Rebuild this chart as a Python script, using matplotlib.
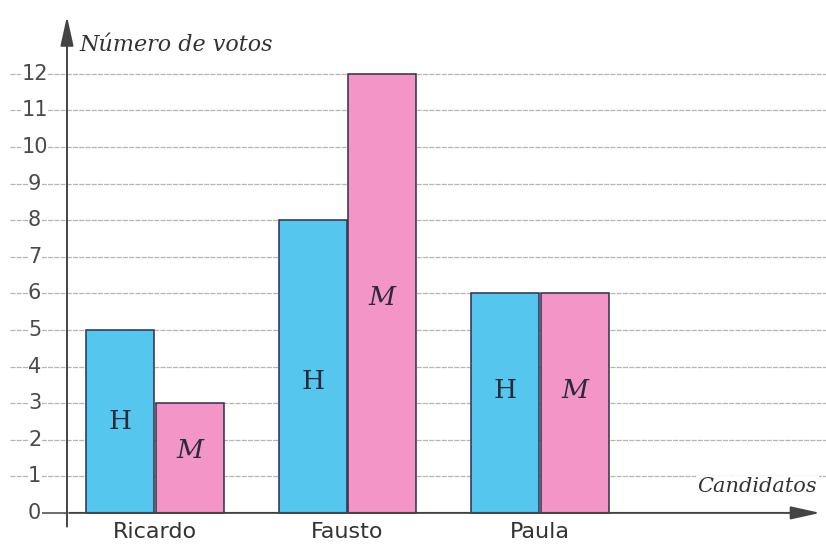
import matplotlib
matplotlib.use("Agg")
import matplotlib.pyplot as plt
import numpy as np

candidates = ["Ricardo", "Fausto", "Paula"]
hombres = [5, 8, 6]
mujeres = [3, 12, 6]
series_labels = ["H", "M"]
h_label_y = [2.5, 3.6, 3.35]
m_label_y = [1.7, 5.9, 3.35]
yticks = list(range(0, 13))
ylabel = "Número de votos"
xlabel = "Candidatos"

blue = "#55c6ee"
pink = "#f395c6"
edge = "#2e2f4a"
grid_c = "#b5b5b5"

fig = plt.figure(figsize=(8.26, 5.44), dpi=100)
ax = fig.add_axes([0, 0, 1, 1])
ax.set_xlim(-0.805, 3.486)
ax.set_ylim(-0.85, 14.02)
ax.axis("off")

x = np.arange(len(candidates))
w = 0.355
gap = 0.006
# gridlines
for t in yticks[1:]:
    ax.plot([-0.755, 3.486], [t, t], color=grid_c, lw=0.9, ls=(0, (4, 1)), zorder=1)
    ax.text(-0.625, t, str(t), ha="center", va="center", fontsize=15,
            color="#4a4a4a", family="DejaVu Sans", zorder=2,
            bbox=dict(facecolor="white", edgecolor="none", pad=0.3))
ax.plot([-0.585, -0.46], [0, 0], color="#555555", lw=1.2, zorder=3)
ax.text(-0.625, 0, "0", ha="center", va="center", fontsize=15, color="#4a4a4a",
        zorder=4, bbox=dict(facecolor="white", edgecolor="none", pad=0.3))

b1 = ax.bar(x - w / 2 - gap / 2, hombres, width=w, color=blue, edgecolor=edge,
            linewidth=1.1, zorder=3)
b2 = ax.bar(x + w / 2 + gap / 2, mujeres, width=w, color=pink, edgecolor=edge,
            linewidth=1.1, zorder=3)
for bars, ys, lab in ((b1, h_label_y, series_labels[0]), (b2, m_label_y, series_labels[1])):
    for rect, yy in zip(bars, ys):
        ax.text(rect.get_x() + rect.get_width() / 2, yy, lab, ha="center",
                va="center", fontsize=19, color="#2a2a3a", family="DejaVu Serif",
                fontstyle="italic" if lab == "M" else "normal", zorder=5)

# axes with arrows
ax.annotate("", xy=(3.47, 0), xytext=(-0.46, 0),
            arrowprops=dict(arrowstyle="-|>,head_length=1.8,head_width=0.4",
                            color="#444444", lw=1.4), zorder=6)
ax.annotate("", xy=(-0.457, 13.65), xytext=(-0.457, -0.45),
            arrowprops=dict(arrowstyle="-|>,head_length=1.8,head_width=0.4",
                            color="#444444", lw=1.4), zorder=6)

for xi, c in zip(x, candidates):
    ax.text(xi, -0.52, c, ha="center", va="center", fontsize=16, color="#333333")

ax.text(-0.39, 12.8, ylabel, ha="left", va="center", fontsize=16,
        color="#333333", family="DejaVu Serif", fontstyle="italic")
ax.text(3.13, 0.72, xlabel, ha="center", va="center", fontsize=15,
        color="#333333", family="DejaVu Serif", fontstyle="italic",
        bbox=dict(facecolor="white", edgecolor="none", pad=1))

fig.savefig("out.png", dpi=100)
